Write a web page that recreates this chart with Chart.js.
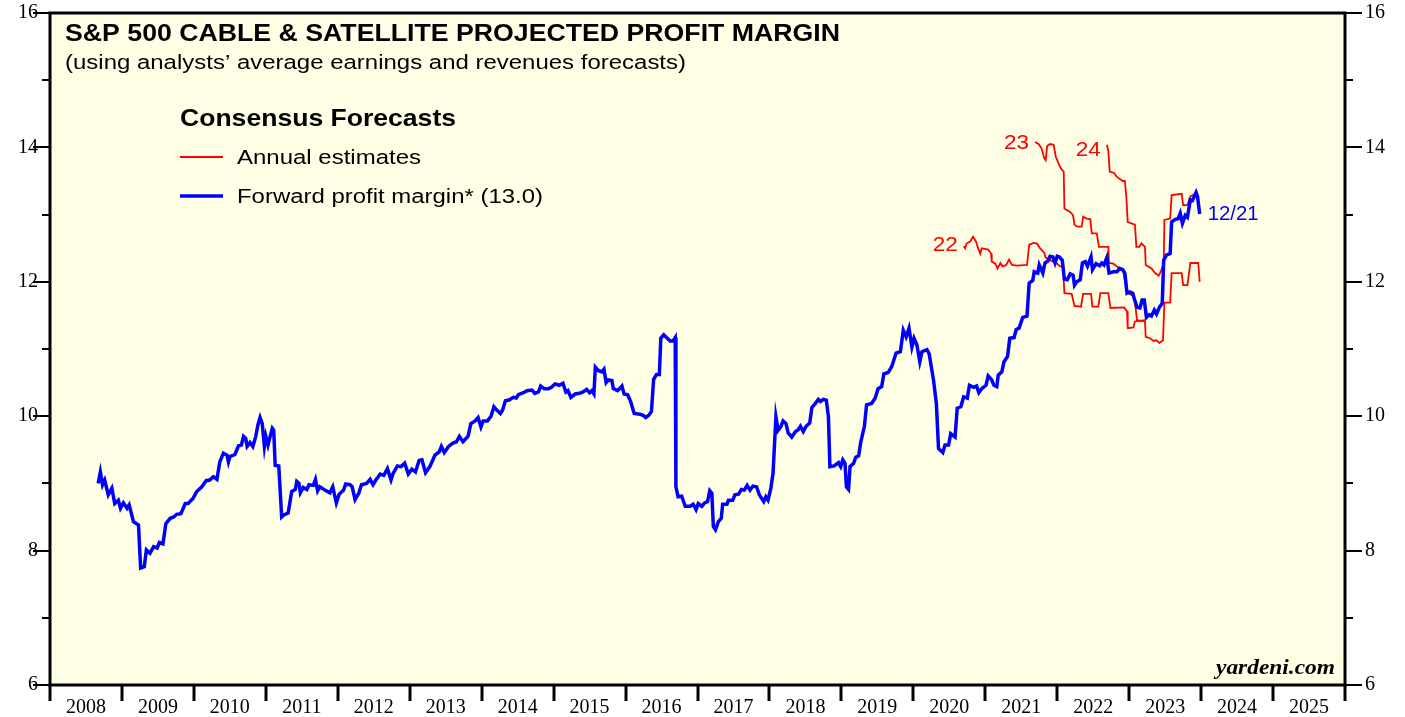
<!DOCTYPE html>
<html>
<head>
<meta charset="utf-8">
<script src="https://cdn.jsdelivr.net/npm/chart.js@4.4.1/dist/chart.umd.min.js"></script>
<style>
  html, body { margin: 0; padding: 0; background: #fff; }
  canvas { display: block; }
</style>
</head>
<body>
<canvas id="chart" width="1405" height="717"></canvas>
<script>
// x tick labels (one per year, centred inside the year)
const yearLabels = ['2008', '2009', '2010', '2011', '2012', '2013', '2014', '2015', '2016',
    '2017', '2018', '2019', '2020', '2021', '2022', '2023', '2024', '2025']
const yMin = 6
const yMax = 16

// forward profit margin, [decimal year, %]
const forwardMargin = [
    [2008.67, 9.00], [2008.70, 9.17], [2008.73, 8.98], [2008.76, 9.05], [2008.81, 8.83], [2008.86, 8.93], [2008.90, 8.70],
    [2008.95, 8.75], [2008.98, 8.63], [2009.02, 8.71], [2009.07, 8.63], [2009.10, 8.68], [2009.16, 8.43], [2009.23, 8.38],
    [2009.26, 7.74], [2009.31, 7.76], [2009.34, 8.01], [2009.39, 7.96], [2009.44, 8.06], [2009.49, 8.04], [2009.52, 8.12],
    [2009.57, 8.10], [2009.61, 8.40], [2009.67, 8.48], [2009.72, 8.50], [2009.76, 8.54], [2009.82, 8.55], [2009.88, 8.70],
    [2009.92, 8.70], [2009.99, 8.78], [2010.04, 8.88], [2010.11, 8.95], [2010.17, 9.04], [2010.22, 9.05], [2010.27, 9.10],
    [2010.32, 9.06], [2010.36, 9.32], [2010.41, 9.45], [2010.46, 9.42], [2010.48, 9.32], [2010.50, 9.40], [2010.57, 9.43],
    [2010.62, 9.56], [2010.66, 9.57], [2010.69, 9.70], [2010.72, 9.67], [2010.74, 9.55], [2010.78, 9.61], [2010.82, 9.55],
    [2010.86, 9.70], [2010.89, 9.87], [2010.92, 9.98], [2010.95, 9.89], [2010.98, 9.55], [2011.00, 9.70], [2011.03, 9.57],
    [2011.06, 9.70], [2011.09, 9.82], [2011.11, 9.79], [2011.13, 9.27], [2011.18, 9.26], [2011.22, 8.50], [2011.25, 8.53],
    [2011.31, 8.56], [2011.36, 8.88], [2011.41, 8.91], [2011.43, 9.03], [2011.46, 9.00], [2011.48, 8.86], [2011.52, 8.94],
    [2011.57, 8.91], [2011.60, 8.98], [2011.66, 8.97], [2011.69, 9.06], [2011.72, 8.89], [2011.75, 8.95], [2011.82, 8.90],
    [2011.89, 8.86], [2011.93, 8.95], [2011.98, 8.71], [2012.02, 8.84], [2012.08, 8.90], [2012.11, 8.99], [2012.17, 8.98],
    [2012.20, 8.95], [2012.24, 8.76], [2012.29, 8.85], [2012.33, 8.98], [2012.40, 9.00], [2012.45, 9.06], [2012.49, 8.98],
    [2012.53, 9.05], [2012.59, 9.14], [2012.64, 9.12], [2012.69, 9.22], [2012.74, 9.05], [2012.77, 9.15], [2012.83, 9.26],
    [2012.88, 9.25], [2012.93, 9.30], [2012.98, 9.14], [2013.03, 9.21], [2013.08, 9.17], [2013.13, 9.34], [2013.17, 9.35],
    [2013.22, 9.16], [2013.28, 9.25], [2013.35, 9.42], [2013.41, 9.47], [2013.44, 9.55], [2013.48, 9.46], [2013.54, 9.55],
    [2013.60, 9.60], [2013.65, 9.62], [2013.69, 9.70], [2013.74, 9.62], [2013.81, 9.70], [2013.85, 9.89], [2013.91, 9.93],
    [2013.95, 9.98], [2013.99, 9.84], [2014.02, 9.93], [2014.08, 9.93], [2014.13, 10.00], [2014.17, 10.14], [2014.21, 10.09],
    [2014.26, 10.04], [2014.29, 10.09], [2014.33, 10.23], [2014.38, 10.24], [2014.44, 10.28], [2014.48, 10.27], [2014.51, 10.32],
    [2014.58, 10.35], [2014.63, 10.38], [2014.70, 10.39], [2014.74, 10.34], [2014.79, 10.36], [2014.82, 10.45], [2014.87, 10.41],
    [2014.93, 10.41], [2014.97, 10.43], [2015.02, 10.48], [2015.08, 10.46], [2015.13, 10.49], [2015.17, 10.36], [2015.20, 10.38],
    [2015.24, 10.28], [2015.30, 10.33], [2015.36, 10.34], [2015.41, 10.36], [2015.46, 10.40], [2015.50, 10.35], [2015.53, 10.38],
    [2015.56, 10.33], [2015.58, 10.73], [2015.62, 10.68], [2015.67, 10.66], [2015.70, 10.70], [2015.73, 10.50], [2015.76, 10.54],
    [2015.81, 10.53], [2015.83, 10.41], [2015.89, 10.38], [2015.95, 10.45], [2015.98, 10.33], [2016.03, 10.32], [2016.07, 10.22],
    [2016.12, 10.04], [2016.20, 10.03], [2016.25, 10.01], [2016.28, 9.98], [2016.32, 10.01], [2016.36, 10.07], [2016.39, 10.55],
    [2016.43, 10.62], [2016.47, 10.62], [2016.49, 11.16], [2016.53, 11.21], [2016.58, 11.16], [2016.62, 11.12], [2016.66, 11.12],
    [2016.69, 11.17], [2016.70, 8.95], [2016.73, 8.80], [2016.78, 8.81], [2016.83, 8.66], [2016.90, 8.66], [2016.94, 8.69],
    [2016.98, 8.61], [2017.01, 8.70], [2017.06, 8.66], [2017.10, 8.71], [2017.14, 8.73], [2017.17, 8.89], [2017.20, 8.85],
    [2017.22, 8.36], [2017.25, 8.31], [2017.29, 8.43], [2017.33, 8.48], [2017.35, 8.69], [2017.41, 8.69], [2017.43, 8.75],
    [2017.49, 8.75], [2017.52, 8.83], [2017.57, 8.84], [2017.61, 8.91], [2017.65, 8.90], [2017.69, 8.97], [2017.73, 8.90],
    [2017.77, 8.96], [2017.82, 8.95], [2017.86, 8.83], [2017.92, 8.73], [2017.95, 8.80], [2017.98, 8.75], [2018.02, 8.93],
    [2018.05, 9.15], [2018.09, 9.99], [2018.12, 9.79], [2018.16, 9.85], [2018.19, 9.93], [2018.23, 9.89], [2018.26, 9.75],
    [2018.31, 9.69], [2018.36, 9.77], [2018.40, 9.80], [2018.43, 9.85], [2018.47, 9.77], [2018.51, 9.85], [2018.56, 9.90],
    [2018.59, 10.13], [2018.63, 10.18], [2018.68, 10.25], [2018.71, 10.22], [2018.75, 10.25], [2018.79, 10.24], [2018.82, 9.99],
    [2018.84, 9.25], [2018.90, 9.26], [2018.96, 9.31], [2018.99, 9.25], [2019.02, 9.35], [2019.05, 9.30], [2019.07, 8.95],
    [2019.10, 8.91], [2019.12, 9.25], [2019.17, 9.30], [2019.20, 9.39], [2019.24, 9.41], [2019.27, 9.62], [2019.32, 9.85],
    [2019.35, 10.17], [2019.42, 10.19], [2019.47, 10.27], [2019.51, 10.41], [2019.56, 10.44], [2019.59, 10.63], [2019.65, 10.65],
    [2019.70, 10.74], [2019.76, 10.94], [2019.82, 10.96], [2019.86, 11.28], [2019.90, 11.18], [2019.94, 11.31], [2019.98, 11.03],
    [2020.01, 11.16], [2020.05, 11.06], [2020.09, 10.81], [2020.12, 10.96], [2020.19, 10.99], [2020.22, 10.93], [2020.28, 10.54],
    [2020.32, 10.19], [2020.35, 9.52], [2020.41, 9.46], [2020.44, 9.57], [2020.49, 9.57], [2020.52, 9.74], [2020.58, 9.69],
    [2020.61, 10.12], [2020.66, 10.14], [2020.70, 10.29], [2020.75, 10.27], [2020.78, 10.46], [2020.84, 10.43], [2020.88, 10.45],
    [2020.91, 10.35], [2020.95, 10.41], [2021.01, 10.46], [2021.04, 10.60], [2021.09, 10.54], [2021.12, 10.46], [2021.16, 10.44],
    [2021.18, 10.61], [2021.23, 10.66], [2021.26, 10.81], [2021.31, 10.89], [2021.34, 11.16], [2021.40, 11.17], [2021.43, 11.29],
    [2021.47, 11.31], [2021.52, 11.47], [2021.58, 11.49], [2021.61, 11.98], [2021.66, 12.02], [2021.68, 12.15], [2021.73, 12.13],
    [2021.75, 12.25], [2021.80, 12.13], [2021.83, 12.28], [2021.87, 12.31], [2021.90, 12.38], [2021.94, 12.37], [2021.97, 12.28],
    [2022.00, 12.38], [2022.03, 12.37], [2022.07, 12.32], [2022.10, 12.04], [2022.14, 12.03], [2022.18, 12.12], [2022.22, 12.10],
    [2022.24, 11.95], [2022.27, 12.00], [2022.32, 12.03], [2022.35, 12.28], [2022.39, 12.30], [2022.42, 12.23], [2022.47, 12.37],
    [2022.49, 12.18], [2022.54, 12.27], [2022.59, 12.24], [2022.62, 12.28], [2022.65, 12.25], [2022.69, 12.36], [2022.72, 12.13],
    [2022.78, 12.15], [2022.83, 12.15], [2022.87, 12.20], [2022.91, 12.18], [2022.94, 12.13], [2022.97, 11.83], [2023.01, 11.85],
    [2023.05, 11.83], [2023.07, 11.75], [2023.11, 11.62], [2023.15, 11.61], [2023.18, 11.73], [2023.21, 11.73], [2023.24, 11.47],
    [2023.28, 11.51], [2023.31, 11.49], [2023.35, 11.58], [2023.38, 11.52], [2023.42, 11.62], [2023.46, 11.68], [2023.48, 12.32],
    [2023.52, 12.40], [2023.57, 12.42], [2023.59, 12.89], [2023.64, 12.93], [2023.68, 12.94], [2023.71, 13.02], [2023.74, 12.87],
    [2023.78, 12.99], [2023.81, 12.96], [2023.85, 13.22], [2023.88, 13.21], [2023.93, 13.33], [2023.95, 13.27], [2023.98, 13.01]
]

// annual consensus estimates, [decimal year, %]
const est2022 = [
    [2020.70, 12.53], [2020.72, 12.50], [2020.74, 12.57], [2020.79, 12.60], [2020.83, 12.67], [2020.87, 12.60], [2020.90, 12.50],
    [2020.93, 12.42], [2020.95, 12.50], [2021.04, 12.48], [2021.08, 12.42], [2021.09, 12.30], [2021.14, 12.27], [2021.17, 12.20],
    [2021.21, 12.28], [2021.24, 12.23], [2021.29, 12.25], [2021.33, 12.33], [2021.37, 12.25], [2021.44, 12.24], [2021.58, 12.25],
    [2021.61, 12.55], [2021.67, 12.58], [2021.72, 12.57], [2021.76, 12.50], [2021.82, 12.43], [2021.84, 12.36], [2021.89, 12.33],
    [2021.94, 12.30], [2021.99, 12.28], [2022.04, 12.23], [2022.08, 12.23], [2022.10, 11.83], [2022.20, 11.82], [2022.24, 11.64],
    [2022.33, 11.63], [2022.36, 11.82], [2022.47, 11.82], [2022.49, 11.63], [2022.57, 11.63], [2022.60, 11.83], [2022.71, 11.83],
    [2022.74, 11.61], [2022.93, 11.62], [2022.97, 11.56], [2022.98, 11.31], [2023.06, 11.32], [2023.08, 11.41], [2023.22, 11.43]
]
const est2023 = [
    [2021.69, 14.08], [2021.74, 14.05], [2021.78, 13.99], [2021.82, 13.84], [2021.84, 13.81], [2021.86, 14.02], [2021.90, 14.05],
    [2021.95, 14.04], [2021.98, 13.86], [2022.02, 13.76], [2022.05, 13.69], [2022.09, 13.64], [2022.10, 13.09], [2022.13, 13.07],
    [2022.18, 13.04], [2022.22, 12.99], [2022.24, 12.85], [2022.28, 12.82], [2022.34, 12.82], [2022.36, 12.97], [2022.41, 12.94],
    [2022.46, 12.93], [2022.48, 12.72], [2022.55, 12.72], [2022.58, 12.52], [2022.71, 12.52], [2022.72, 12.28], [2022.78, 12.27],
    [2022.83, 12.23], [2022.87, 12.18], [2022.91, 12.19], [2022.93, 12.08], [2022.97, 11.83], [2023.04, 11.80], [2023.07, 11.78],
    [2023.11, 11.43], [2023.22, 11.41], [2023.23, 11.18], [2023.29, 11.16], [2023.34, 11.12], [2023.38, 11.13], [2023.42, 11.09],
    [2023.47, 11.13], [2023.49, 11.69], [2023.57, 11.69], [2023.59, 12.13], [2023.73, 12.13], [2023.75, 11.95], [2023.81, 11.95],
    [2023.85, 12.28], [2023.96, 12.28], [2023.98, 12.00]
]
const est2024 = [
    [2022.69, 14.04], [2022.71, 13.95], [2022.73, 13.64], [2022.79, 13.62], [2022.83, 13.56], [2022.87, 13.53], [2022.91, 13.50],
    [2022.94, 13.50], [2022.96, 13.27], [2022.98, 12.89], [2023.08, 12.85], [2023.10, 12.52], [2023.14, 12.52], [2023.17, 12.57],
    [2023.22, 12.52], [2023.23, 12.25], [2023.31, 12.20], [2023.36, 12.13], [2023.41, 12.09], [2023.44, 12.15], [2023.48, 12.28],
    [2023.49, 12.92], [2023.57, 12.94], [2023.59, 13.29], [2023.73, 13.31], [2023.75, 13.14], [2023.81, 13.14], [2023.85, 13.27],
    [2023.92, 13.31], [2023.93, 13.34]
]

const RED = '#ff0000'
const BLUE = '#0000ff'
const SANS = "'Liberation Sans', Arial, sans-serif"
const SERIF = "'Liberation Serif', 'Times New Roman', serif"

const toPoints = arr => arr.map(([x, y]) => ({ x, y }))

const redLine = (label, arr) => ({
    label, data: toPoints(arr), borderColor: RED, borderWidth: 1.8,
    pointRadius: 0, tension: 0, fill: false
})

// the source art uses a wider face than Arial, so stretch text to its width
function wideText(ctx, text, x, y, width) {
    const w = ctx.measureText(text).width
    ctx.save()
    ctx.translate(x, y)
    ctx.scale(width / w, 1)
    ctx.fillText(text, 0, 0)
    ctx.restore()
}

const framePlugin = {
    id: 'frame',
    beforeDraw(chart) {
        const { ctx, chartArea: a } = chart
        ctx.save()
        ctx.fillStyle = '#ffffe5'
        ctx.fillRect(a.left, a.top, a.right - a.left, a.bottom - a.top)
        ctx.restore()
    },
    afterDraw(chart) {
        const { ctx, chartArea: a, scales } = chart
        ctx.save()
        ctx.strokeStyle = '#000'

        // axis ticks
        ctx.lineWidth = 2
        for (let v = yMin; v <= yMax; v++) {
            const py = Math.round(scales.y.getPixelForValue(v))
            const len = v % 2 === 0 ? 17 : 8
            ctx.beginPath()
            ctx.moveTo(a.left - len, py); ctx.lineTo(a.left, py)
            ctx.moveTo(a.right, py); ctx.lineTo(a.right + len, py)
            ctx.stroke()
        }
        ctx.lineWidth = 3
        for (let yr = 2008; yr <= 2026; yr++) {
            const px = Math.round(scales.x.getPixelForValue(yr))
            ctx.beginPath()
            ctx.moveTo(px, a.bottom); ctx.lineTo(px, a.bottom + 16)
            ctx.stroke()
        }

        // box
        ctx.lineWidth = 3
        ctx.strokeRect(a.left, a.top, a.right - a.left, a.bottom - a.top)

        // titles
        ctx.fillStyle = '#000'
        ctx.textBaseline = 'middle'
        ctx.textAlign = 'left'
        ctx.font = `bold 24px ${SANS}`
        wideText(ctx, 'S&P 500 CABLE & SATELLITE PROJECTED PROFIT MARGIN', 65, 34, 775)
        ctx.font = `20px ${SANS}`
        wideText(ctx, '(using analysts\u2019 average earnings and revenues forecasts)', 65, 63, 621)

        // legend
        ctx.font = `bold 24px ${SANS}`
        wideText(ctx, 'Consensus Forecasts', 180, 119, 276)
        ctx.font = `20px ${SANS}`
        wideText(ctx, 'Annual estimates', 237, 158, 184)
        wideText(ctx, 'Forward profit margin* (13.0)', 237, 197, 306)
        ctx.lineWidth = 1.8
        ctx.strokeStyle = RED
        ctx.beginPath(); ctx.moveTo(180, 157); ctx.lineTo(223, 157); ctx.stroke()
        ctx.lineWidth = 3.5
        ctx.strokeStyle = BLUE
        ctx.beginPath(); ctx.moveTo(180, 196); ctx.lineTo(223, 196); ctx.stroke()

        // series tags next to the lines
        const px = p => scales.x.getPixelForValue(p[0])
        const py = p => scales.y.getPixelForValue(p[1])
        ctx.font = `20px ${SANS}`
        ctx.fillStyle = RED
        wideText(ctx, '22', px(est2022[0]) - 31, py(est2022[0]) - 1, 25)
        wideText(ctx, '23', px(est2023[0]) - 31, py(est2023[0]) + 1, 25)
        wideText(ctx, '24', px(est2024[0]) - 31, py(est2024[0]) + 6, 25)
        const last = forwardMargin[forwardMargin.length - 1]
        ctx.fillStyle = BLUE
        wideText(ctx, '12/21', px(last) + 8, py(last) + 1, 51)

        // source
        ctx.fillStyle = '#000'
        ctx.font = `italic bold 21px ${SERIF}`
        wideText(ctx, 'yardeni.com', a.right - 129, a.bottom - 16, 119)
        ctx.restore()
    }
}

const yTicks = {
    stepSize: 1,
    color: '#000',
    font: { family: SERIF, size: 20 },
    callback: v => (v % 2 === 0 ? v : '')
}

const fitY = w => s => { s.width = w; s.paddingTop = 0; s.paddingBottom = 0 }

const config = {
    type: 'line',
    data: {
        datasets: [
            {
                label: 'Forward profit margin', data: toPoints(forwardMargin), borderColor: BLUE,
                borderWidth: 3.5, pointRadius: 0, tension: 0, fill: false
            },
            redLine('2022', est2022),
            redLine('2023', est2023),
            redLine('2024', est2024)
        ]
    },
    options: {
        responsive: false,
        animation: false,
        devicePixelRatio: 1,
        layout: { padding: { top: 13 } },
        plugins: { legend: { display: false }, tooltip: { enabled: false } },
        scales: {
            x: {
                type: 'linear', min: 2008, max: 2026,
                grid: { display: false, drawTicks: false }, border: { display: false },
                afterBuildTicks: s => { s.ticks = yearLabels.map((l, i) => ({ value: 2008.5 + i })) },
                afterFit: s => { s.height = 32; s.paddingLeft = 0; s.paddingRight = 0 },
                ticks: {
                    autoSkip: false, maxRotation: 0, padding: 11, color: '#000',
                    font: { family: SERIF, size: 20 },
                    callback: (v, i) => yearLabels[i]
                }
            },
            y: {
                min: yMin, max: yMax, position: 'left',
                grid: { display: false, drawTicks: false }, border: { display: false },
                afterFit: fitY(50),
                ticks: { ...yTicks, padding: 12 }
            },
            y2: {
                min: yMin, max: yMax, position: 'right',
                grid: { display: false, drawTicks: false }, border: { display: false },
                afterFit: fitY(60),
                ticks: { ...yTicks, padding: 20 }
            }
        }
    },
    plugins: [framePlugin]
}

window.onload = () => new Chart(document.getElementById('chart').getContext('2d'), config)
</script>
</body>
</html>
